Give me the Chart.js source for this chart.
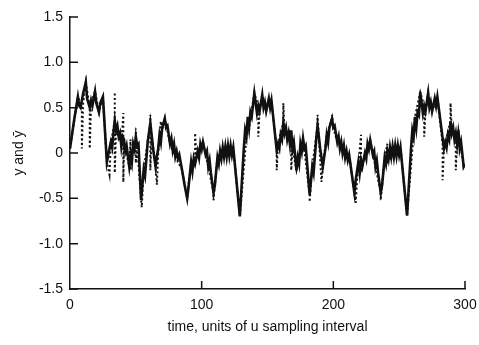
<!DOCTYPE html>
<html>
<head>
<meta charset="utf-8">
<script src="https://cdn.jsdelivr.net/npm/chart.js@4.4.1/dist/chart.umd.min.js"></script>
<style>
  html, body { margin: 0; padding: 0; background: #fff; }
  canvas { display: block; }
</style>
</head>
<body>
<canvas id="chart" width="479" height="345"></canvas>
<script>
// measured output y (solid) - time in units of u sampling interval
const yTimes = [
  0, 3, 6, 7, 8, 10, 12, 13, 15, 16, 17, 19, 20, 22, 23, 25, 28, 30, 31, 32, 33, 34, 35, 36, 37, 38, 39, 40, 41, 42, 43,
  45, 46, 47, 48, 49, 50, 51, 52, 54, 56, 57, 59, 61, 62, 63, 65, 66, 67, 68, 69, 70, 72, 73, 74, 76, 77, 78, 79, 80,
  81, 82, 83, 85, 87, 89, 90, 92, 93, 94, 95, 97, 98, 99, 100, 101, 103, 104, 105, 106, 107, 109, 110, 112, 113, 114,
  115, 116, 117, 118, 119, 120, 121, 122, 123, 124, 129,
  132, 133, 134, 135, 136, 137, 138, 140, 142, 143, 144, 146, 147, 148, 149, 151, 152, 153, 157, 158, 159, 160, 161,
  162, 163, 164, 165, 166, 167, 168, 169, 170, 172, 173, 174, 175, 176, 177, 178, 179, 182, 184, 185, 187, 188, 189,
  190, 192, 193, 194, 195, 196, 197, 199, 200, 201, 203, 204, 205, 206, 207, 208, 209, 210, 211, 212, 216, 217, 219,
  220, 221, 222, 224, 225, 226, 227, 228, 230, 231, 232, 233, 234, 236, 237, 239, 240, 241, 242, 243, 244, 245, 246,
  247, 248, 249, 250, 251, 256,
  259, 260, 261, 262, 263, 264, 265, 266, 268, 269, 270, 272, 273, 274, 275, 277, 278, 279, 284, 285, 286, 287, 288,
  289, 290, 291, 292, 293, 294, 295, 296, 297, 299, 300
];
const yValues = [
  0.05, 0.35, 0.62, 0.52, 0.50, 0.66, 0.78, 0.60, 0.50, 0.58, 0.52, 0.68, 0.55, 0.45, 0.55, 0.62, -0.10, 0.05, 0.12, 0.06, 0.22, 0.36, 0.25, 0.30, 0.18, 0.22, 0.07, 0.18, 0.15, 0.02, 0.08,
  -0.15, -0.02, -0.10, 0.10, 0.04, 0.18, 0.08, 0.10, -0.52, -0.18, -0.25, 0.12, 0.33, 0.20, 0.06, -0.15, -0.04, 0.05, 0.20, 0.12, 0.28, 0.38, 0.28, 0.30, 0.10, 0.16, 0.03, 0.10, -0.04,
  0.02, -0.06, -0.02, -0.18, -0.35, -0.50, -0.38, -0.10, -0.20, -0.06, -0.12, 0.02, -0.05, 0.10, 0.04, 0.12, -0.02, 0.02, -0.15, -0.08, -0.22, -0.44, -0.36, -0.05, -0.12, 0.02,
  -0.06, 0.06, -0.04, 0.07, -0.04, 0.08, -0.03, 0.08, -0.02, 0.06, -0.70,
  0.05, 0.25, 0.18, 0.40, 0.28, 0.45, 0.40, 0.66, 0.44, 0.52, 0.46, 0.64, 0.50, 0.56, 0.46, 0.60, 0.50, 0.58, 0.03, 0.10, 0.05, 0.20, 0.15,
  0.33, 0.22, 0.28, 0.15, 0.22, 0.10, 0.25, 0.05, 0.12, -0.19, -0.05, -0.12, 0.10, 0.02, 0.16, 0.05, 0.08, -0.46, -0.15, -0.22, 0.15, 0.30, 0.18,
  0.05, -0.15, -0.05, 0.05, 0.20, 0.12, 0.28, 0.38, 0.28, 0.30, 0.12, 0.18, 0.05, 0.12, 0.00, 0.08, -0.05, 0.02, -0.08, -0.02, -0.44, -0.30, -0.10,
  -0.22, -0.08, -0.15, 0.00, -0.06, 0.10, 0.04, 0.14, -0.02, 0.02, -0.15, -0.08, -0.22, -0.44, -0.36, -0.05, -0.12, 0.02, -0.06, 0.06, -0.04, 0.07, -0.04,
  0.08, -0.03, 0.08, -0.02, 0.06, -0.69,
  0.05, 0.25, 0.18, 0.40, 0.28, 0.45, 0.42, 0.67, 0.44, 0.52, 0.46, 0.66, 0.50, 0.56, 0.46, 0.60, 0.52, 0.62, 0.05, 0.12, 0.06, 0.20, 0.15,
  0.35, 0.22, 0.28, 0.15, 0.22, 0.10, 0.25, 0.05, 0.12, -0.15, -0.12
];

// model output y-bar (dotted)
const ybarTimes = [
  0, 6, 9, 9, 10, 12, 15, 15, 16, 19, 22, 25, 28, 30, 31, 34, 34, 34, 35, 39, 40.5, 40.5, 41, 45, 46, 46, 47, 50, 50, 50, 51,
  54, 54.5, 56, 61, 61, 61, 62, 65, 66, 67, 69, 70, 72, 76, 80, 85, 89, 92, 95, 95, 96, 101, 105, 109, 109, 110, 112, 118, 124, 129,
  134, 136, 140, 143, 143, 144, 146, 149, 151, 153, 157, 157, 158, 162, 162, 163, 168, 168, 169, 172, 177, 182, 182, 184,
  188, 188, 189, 191, 192, 195, 199, 199, 200, 203, 212, 216, 217, 218, 221, 221, 222, 224, 228, 232, 236, 236, 237, 239,
  241, 241, 251, 256,
  262, 266, 269, 269, 270, 272, 275, 279, 283, 283, 284, 289, 289, 290, 293, 293, 294, 295, 299, 300
];
const ybarValues = [
  0.05, 0.62, 0.50, 0.05, 0.55, 0.78, 0.50, 0.05, 0.55, 0.68, 0.45, 0.62, -0.10, -0.24, 0.10, 0.36, 0.67, -0.22, 0.25, 0.10, 0.44, -0.32, 0.12, -0.15, 0.15, -0.19, 0.00, 0.18, 0.27, -0.11, 0.08,
  -0.52, -0.60, -0.18, 0.33, 0.42, -0.19, 0.20, -0.15, -0.35, 0.00, 0.35, 0.25, 0.38, 0.10, -0.04, -0.18, -0.50, -0.10, -0.12, 0.22, -0.05, 0.12, -0.15, -0.44, -0.52, -0.36, -0.05, 0.07, 0.06, -0.70,
  0.18, 0.28, 0.66, 0.52, 0.18, 0.46, 0.64, 0.46, 0.60, 0.58, 0.03, -0.19, 0.10, 0.33, 0.55, 0.22, 0.25, -0.19, 0.05, -0.19, 0.16, -0.46, -0.54, -0.15,
  0.30, 0.42, 0.18, -0.32, -0.15, 0.20, 0.38, 0.42, 0.28, 0.12, -0.02, -0.44, -0.55, -0.30, 0.20, -0.19, -0.15, 0.00, 0.14, -0.15, -0.44, -0.52, -0.36, -0.05,
  0.10, -0.10, 0.06, -0.69,
  0.40, 0.67, 0.52, 0.18, 0.46, 0.66, 0.46, 0.62, 0.10, -0.30, 0.05, 0.35, 0.55, 0.22, 0.22, -0.19, 0.10, 0.25, -0.15, -0.12
];

const xTickValues = [0, 100, 200, 300];
const yTickValues = [-1.5, -1.0, -0.5, 0, 0.5, 1.0, 1.5];

const ink = '#111';
const font = { family: '"Liberation Sans", Arial, sans-serif', size: 14 };

function toPoints(times, values) {
    return times.map((t, i) => ({ x: t, y: values[i] }));
}

// tick marks point inward, into the plot
const innerTicks = {
    id: 'innerTicks',
    afterDatasetsDraw(chart) {
        const { ctx, chartArea, scales } = chart;
        ctx.save();
        ctx.strokeStyle = ink;
        ctx.lineWidth = 1.5;
        ctx.beginPath();
        xTickValues.forEach(v => {
            if (v === 0) return;
            const px = scales.x.getPixelForValue(v);
            ctx.moveTo(px, chartArea.bottom);
            ctx.lineTo(px, chartArea.bottom - 8);
        });
        yTickValues.forEach(v => {
            const py = scales.y.getPixelForValue(v);
            ctx.moveTo(chartArea.left, py);
            ctx.lineTo(chartArea.left + 8, py);
        });
        ctx.stroke();
        ctx.restore();
    }
};

new Chart(document.getElementById('chart'), {
    type: 'line',
    data: {
        datasets: [
            {
                label: 'y',
                data: toPoints(yTimes, yValues),
                borderColor: ink,
                borderWidth: 2.6,
                pointRadius: 0,
                tension: 0
            },
            {
                label: 'y-bar',
                data: toPoints(ybarTimes, ybarValues),
                borderColor: ink,
                borderWidth: 2,
                borderDash: [2, 2.5],
                pointRadius: 0,
                tension: 0
            }
        ]
    },
    options: {
        responsive: false,
        animation: false,
        layout: { padding: { top: 17, right: 14, left: 0, bottom: 0 } },
        plugins: {
            legend: { display: false },
            tooltip: { enabled: false }
        },
        scales: {
            x: {
                type: 'linear',
                min: 0,
                max: 300,
                afterFit: s => {
                    s.height = 56;
                    s.paddingLeft = 0;
                    s.paddingRight = 0;
                },
                afterBuildTicks: s => { s.ticks = xTickValues.map(v => ({ value: v })); },
                grid: { drawOnChartArea: false, drawTicks: false },
                border: { display: true, color: ink, width: 1.5 },
                ticks: { color: ink, font, padding: 8, maxRotation: 0 },
                title: {
                    display: true,
                    text: 'time, units of u sampling interval',
                    color: ink,
                    font,
                    padding: { top: 0, bottom: 9 }
                }
            },
            y: {
                min: -1.5,
                max: 1.5,
                afterFit: s => { s.width = 70; },
                afterBuildTicks: s => { s.ticks = yTickValues.map(v => ({ value: v })); },
                grid: { drawOnChartArea: false, drawTicks: false },
                border: { display: true, color: ink, width: 1.5 },
                ticks: {
                    color: ink,
                    font,
                    padding: 7,
                    callback: v => (v === 0 ? '0' : v.toFixed(1))
                },
                title: {
                    display: true,
                    text: 'y and ȳ',
                    color: ink,
                    font,
                    padding: { top: 11, bottom: 0 }
                }
            }
        }
    },
    plugins: [innerTicks]
});
</script>
</body>
</html>
